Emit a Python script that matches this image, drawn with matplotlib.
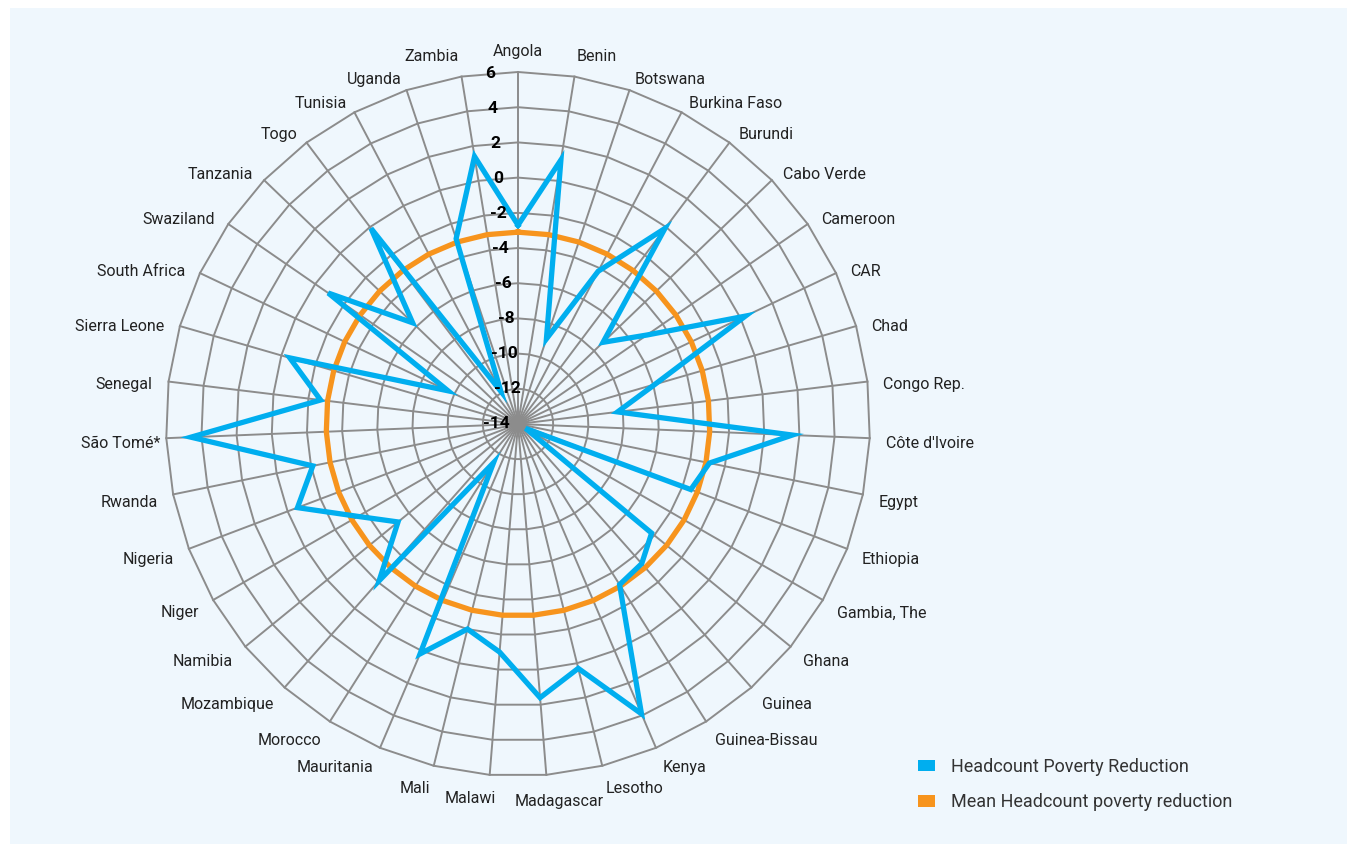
import numpy as np
import matplotlib
matplotlib.use("Agg")
import matplotlib.pyplot as plt
from matplotlib.patches import Rectangle, Patch

plt.rcParams["font.family"] = ["Roboto", "DejaVu Sans"]

countries = [
    "Angola", "Benin", "Botswana", "Burkina Faso", "Burundi", "Cabo Verde",
    "Cameroon", "CAR", "Chad", "Congo Rep.", "Côte d'Ivoire", "Egypt",
    "Ethiopia", "Gambia, The", "Ghana", "Guinea", "Guinea-Bissau", "Kenya",
    "Lesotho", "Madagascar", "Malawi", "Mali", "Mauritania", "Morocco",
    "Mozambique", "Namibia", "Niger", "Nigeria", "Rwanda", "São Tomé*",
    "Senegal", "Sierra Leone", "South Africa", "Swaziland", "Tanzania",
    "Togo", "Tunisia", "Uganda", "Zambia",
]
headcount = [
    -2.7, 1.2, -8.9, -4.2, -0.1, -7.3,
    -5.1, 0.3, -5.9, -8.3, 1.6, -2.9,
    -3.5, -13.5, -4.2, -3.4, -3.2, 3.9,
    0.3, 1.6, -1.0, -2.0, 0.2, -11.4,
    -2.1, -5.2, -3.5, -0.6, -2.1, 4.6,
    -2.7, -0.5, -9.6, -0.9, -5.7,
    -0.1, -11.9, -2.9, 1.4,
]
mean_headcount = -3.1
ring_values = [-14, -12, -10, -8, -6, -4, -2, 0, 2, 4, 6]

BLUE = "#00AEEF"
ORANGE = "#F7941D"
GRID = "#8C8C8C"
PANEL = "#EFF7FD"

n = len(countries)
theta = np.arange(n) * 2 * np.pi / n
theta_closed = np.append(theta, theta[0])

fig = plt.figure(figsize=(13.47, 8.44), dpi=100, facecolor="white")
fig.patches.append(Rectangle((10 / 1347, 0), 1 - 10 / 1347, 836 / 844,
                             transform=fig.transFigure, facecolor=PANEL,
                             edgecolor="none", zorder=-10))

ax = fig.add_axes([166 / 1347, 68 / 844, 704 / 1347, 704 / 844],
                  projection="polar")
ax.set_zorder(1)
ax.patch.set_visible(False)
ax.set_theta_zero_location("N")
ax.set_theta_direction(-1)
ax.set_ylim(ring_values[0], ring_values[-1])
ax.grid(False)
ax.set_xticks([])
ax.set_yticks([])
ax.spines["polar"].set_visible(False)

# polygon grid, excel style radar
for v in ring_values[1:]:
    ax.plot(theta_closed, [v] * (n + 1), color=GRID, lw=1.4, zorder=1,
            clip_on=False)
for t in theta:
    ax.plot([t, t], [ring_values[0], ring_values[-1]], color=GRID, lw=1.4,
            zorder=1, clip_on=False)

ax.plot(theta_closed, [mean_headcount] * (n + 1), color=ORANGE, lw=3.8,
        zorder=3, solid_joinstyle="miter")
ax.plot(theta_closed, headcount + headcount[:1], color=BLUE, lw=3.8,
        zorder=4, solid_joinstyle="miter")

# radial value labels
for v in ring_values:
    dx = -6 if v == ring_values[0] else 4
    ax.annotate(str(v), xy=(np.deg2rad(-4.7), v), xytext=(dx, 0),
                textcoords="offset points", ha="right", va="center",
                fontsize=12.5, fontweight="bold", color="black", zorder=5,
                annotation_clip=False)

# category labels
lab_r = ring_values[0] + (ring_values[-1] - ring_values[0]) * 368 / 352
nudge = {"Malawi": (-13, 0), "Madagascar": (8, -2), "São Tomé*": (7, 0)}
for t, name in zip(theta, countries):
    s, c = np.sin(t), np.cos(t)
    if abs(s) < 0.1:
        ha = "center"
    elif s > 0:
        ha = "left"
    else:
        ha = "right"
    if c > 0.97:
        va, dy = "bottom", -2
    elif c < -0.97:
        va, dy = "top", 0
    else:
        va, dy = "center", -3.6
    dx, ddy = nudge.get(name, (0, 0))
    ax.annotate(name, xy=(t, lab_r), xytext=(dx, dy + ddy),
                textcoords="offset points", ha=ha, va=va, fontsize=11.5,
                color="#222222", annotation_clip=False)

handles = [Patch(facecolor=BLUE, edgecolor="none"),
           Patch(facecolor=ORANGE, edgecolor="none")]
fig.legend(handles, ["Headcount Poverty Reduction",
                     "Mean Headcount poverty reduction"],
           loc="upper left", bbox_to_anchor=(909 / 1347, 95 / 844),
           frameon=False, fontsize=13, handlelength=0.95, handleheight=0.6,
           handletextpad=0.9, labelspacing=0.95, borderpad=0,
           labelcolor="#333333")

fig.savefig("out.png", dpi=100, facecolor="white")
